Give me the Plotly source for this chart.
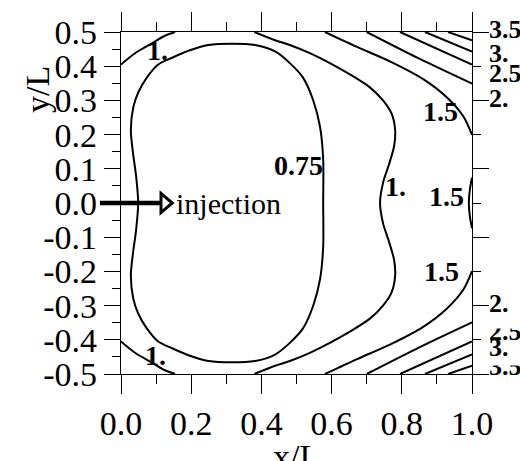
import plotly.graph_objects as go

# ---- contour lines of the normalised field, (x/L, y/L) ----
c075_x = [0.576, 0.576, 0.567, 0.548, 0.519, 0.481, 0.439, 0.382, 0.315, 0.249, 0.192, 0.144, 0.106,
          0.073, 0.049, 0.035, 0.028, 0.034, 0.043, 0.049, 0.043, 0.034, 0.028, 0.035, 0.049, 0.073,
          0.106, 0.144, 0.192, 0.249, 0.315, 0.382, 0.439, 0.481, 0.519, 0.548, 0.567, 0.576, 0.576]
c075_y = [0.0, 0.128, 0.223, 0.299, 0.366, 0.409, 0.443, 0.462, 0.466, 0.462, 0.445, 0.424, 0.405,
          0.366, 0.323, 0.280, 0.213, 0.148, 0.079, 0.0, -0.079, -0.148, -0.213, -0.280, -0.323, -0.366,
          -0.405, -0.424, -0.445, -0.462, -0.466, -0.462, -0.443, -0.409, -0.366, -0.299, -0.223, -0.128, 0.0]

c1_mid_x = [0.380, 0.439, 0.481, 0.538, 0.595, 0.652, 0.709, 0.747, 0.771, 0.781, 0.778, 0.762, 0.747,
            0.738, 0.747, 0.762, 0.778, 0.781, 0.771, 0.747, 0.709, 0.652, 0.595, 0.538, 0.481, 0.439, 0.380]
c1_mid_y = [0.5, 0.476, 0.462, 0.438, 0.409, 0.376, 0.338, 0.299, 0.261, 0.213, 0.166, 0.108, 0.061,
            0.0, -0.061, -0.108, -0.166, -0.213, -0.261, -0.299, -0.338, -0.376, -0.409, -0.438, -0.462, -0.476, -0.5]

c1_top_x = [0.0, 0.040, 0.087, 0.125, 0.154]
c1_top_y = [0.405, 0.438, 0.466, 0.489, 0.5]
c1_bot_x = [0.0, 0.040, 0.087, 0.125, 0.154]
c1_bot_y = [-0.405, -0.438, -0.466, -0.489, -0.5]

c15_top_x = [0.581, 0.671, 0.766, 0.861, 0.928, 0.976, 1.0]
c15_top_y = [0.5, 0.457, 0.414, 0.362, 0.309, 0.252, 0.199]
c15_bot_x = [0.581, 0.671, 0.766, 0.861, 0.928, 0.976, 1.0]
c15_bot_y = [-0.5, -0.457, -0.414, -0.362, -0.309, -0.252, -0.199]
c15_edge_x = [1.0, 0.994, 0.991, 0.994, 1.0]
c15_edge_y = [0.074, 0.04, 0.0, -0.04, -0.074]

c2_top_x = [0.700, 0.850, 1.0]
c2_top_y = [0.5, 0.422, 0.349]
c2_bot_x = [0.700, 0.850, 1.0]
c2_bot_y = [-0.5, -0.422, -0.349]
c25_top_x = [0.795, 1.0]
c25_top_y = [0.5, 0.405]
c25_bot_x = [0.795, 1.0]
c25_bot_y = [-0.5, -0.405]
c3_top_x = [0.866, 1.0]
c3_top_y = [0.5, 0.443]
c3_bot_x = [0.866, 1.0]
c3_bot_y = [-0.5, -0.443]
c35_top_x = [0.932, 1.0]
c35_top_y = [0.5, 0.476]
c35_bot_x = [0.932, 1.0]
c35_bot_y = [-0.5, -0.476]

# ---- contour labels inside the frame ----
label_text = ["1.", "1.", "0.75", "1.", "1.5", "1.5", "1.5"]
label_x = [0.105, 0.097, 0.507, 0.783, 0.909, 0.926, 0.912]
label_y = [0.447, -0.447, 0.109, 0.049, 0.267, 0.020, -0.200]

# ---- contour values beside the right frame edge ----
edge_text = ["3.5", "3.", "2.5", "2.", "2.", "2.5", "3.", "3.5"]
edge_y = [0.506, 0.438, 0.378, 0.307, -0.294, -0.377, -0.423, -0.477]

# ---- tick labels ----
x_ticks = [0.0, 0.2, 0.4, 0.6, 0.8, 1.0]
x_tick_text = ["0.0", "0.2", "0.4", "0.6", "0.8", "1.0"]
y_ticks = [-0.5, -0.4, -0.3, -0.2, -0.1, 0.0, 0.1, 0.2, 0.3, 0.4, 0.5]
y_tick_text = ["-0.5", "-0.4", "-0.3", "-0.2", "-0.1", "0.0", "0.1", "0.2", "0.3", "0.4", "0.5"]

FONT = "Liberation Serif"
LW = 2.0

fig = go.Figure()
lines = [
    (c075_x, c075_y), (c1_mid_x, c1_mid_y), (c1_top_x, c1_top_y), (c1_bot_x, c1_bot_y),
    (c15_top_x, c15_top_y), (c15_bot_x, c15_bot_y), (c15_edge_x, c15_edge_y),
    (c2_top_x, c2_top_y), (c2_bot_x, c2_bot_y), (c25_top_x, c25_top_y), (c25_bot_x, c25_bot_y),
    (c3_top_x, c3_top_y), (c3_bot_x, c3_bot_y), (c35_top_x, c35_top_y), (c35_bot_x, c35_bot_y),
]
for xs, ys in lines:
    fig.add_trace(go.Scatter(x=xs, y=ys, mode="lines",
                             line=dict(color="black", width=LW, shape="spline", smoothing=0.8),
                             showlegend=False, hoverinfo="skip"))

# invisible trace carrying the right-hand tick axis
fig.add_trace(go.Scatter(x=[0.5], y=[0.0], yaxis="y2", mode="markers",
                         marker=dict(opacity=0), showlegend=False, hoverinfo="skip"))

annotations = []
for t, x, y in zip(label_text, label_x, label_y):
    annotations.append(dict(x=x, y=y, xref="x", yref="y", text="<b>%s</b>" % t, showarrow=False,
                            font=dict(family=FONT, size=28, color="black")))

# right-edge values, placed in paper units so the ones at the frame corners stay visible
for t, y in zip(edge_text, edge_y):
    annotations.append(dict(x=1.043, y=y + 0.5, xref="paper", yref="paper", text="<b>%s</b>" % t,
                            showarrow=False, xanchor="left", yanchor="middle",
                            font=dict(family=FONT, size=26, color="black")))
# thin white strips where the lower edge values crowd each other
for top in (-0.342, -0.450):
    annotations.append(dict(x=1.048, y=top + 0.5, xref="paper", yref="paper", text=" ",
                            showarrow=False, xanchor="left", yanchor="top", width=34, height=7,
                            bgcolor="white", borderpad=0))

annotations.append(dict(x=0.150, y=0.0, xref="paper", yref="y", text="injection",
                        showarrow=False, xanchor="left", yanchor="middle",
                        font=dict(family=FONT, size=30, color="black")))
annotations.append(dict(x=-0.238, y=0.832, xref="paper", yref="paper", text="y/L", textangle=-90,
                        showarrow=False, xanchor="center", yanchor="middle",
                        font=dict(family=FONT, size=34, color="black")))
annotations.append(dict(x=0.5, y=-0.18, xref="paper", yref="paper", text="x/L",
                        showarrow=False, xanchor="center", yanchor="top",
                        font=dict(family=FONT, size=34, color="black")))

# injection arrow: thick shaft with an open triangular head
shapes = [
    dict(type="line", xref="paper", yref="paper", x0=-0.06, x1=0.112, y0=0.5, y1=0.5,
         line=dict(color="black", width=4.5)),
    dict(type="path", xref="paper", yref="paper",
         path="M 0.114 0.528 L 0.146 0.5 L 0.114 0.472 Z",
         fillcolor="white", line=dict(color="black", width=3)),
]

tickfont = dict(family=FONT, size=34, color="black")
fig.update_layout(
    width=520, height=461,
    margin=dict(l=121, r=48, t=25, b=87),
    paper_bgcolor="white", plot_bgcolor="white",
    showlegend=False,
    annotations=annotations, shapes=shapes,
    xaxis=dict(range=[0, 1], showgrid=False, zeroline=False, showline=True, linecolor="black",
               linewidth=1.3, mirror="ticks", ticks="outside", ticklen=19, tickwidth=1.3,
               tickcolor="black", tickvals=x_ticks, ticktext=x_tick_text, tickfont=tickfont,
               minor=dict(dtick=0.1, tick0=0, ticks="outside", ticklen=9, tickwidth=1.3,
                          tickcolor="black", showgrid=False)),
    yaxis=dict(range=[-0.5, 0.5], showgrid=False, zeroline=False, showline=True, linecolor="black",
               linewidth=1.3, mirror=True, ticks="outside", ticklen=16, tickwidth=1.3,
               tickcolor="black", tickvals=y_ticks, ticktext=y_tick_text, tickfont=tickfont,
               minor=dict(dtick=0.05, tick0=0, ticks="outside", ticklen=8, tickwidth=1.3,
                          tickcolor="black", showgrid=False)),
    yaxis2=dict(range=[-0.5, 0.5], overlaying="y", side="right", anchor="x", showgrid=False,
                zeroline=False, showline=True, linecolor="black", linewidth=1.3,
                ticks="outside", ticklen=16, tickwidth=1.3, tickcolor="black",
                tick0=0.1, dtick=0.2, showticklabels=False,
                minor=dict(dtick=0.2, tick0=0, ticks="outside", ticklen=8, tickwidth=1.3,
                           tickcolor="black", showgrid=False)),
)

fig.write_html("out.html")
